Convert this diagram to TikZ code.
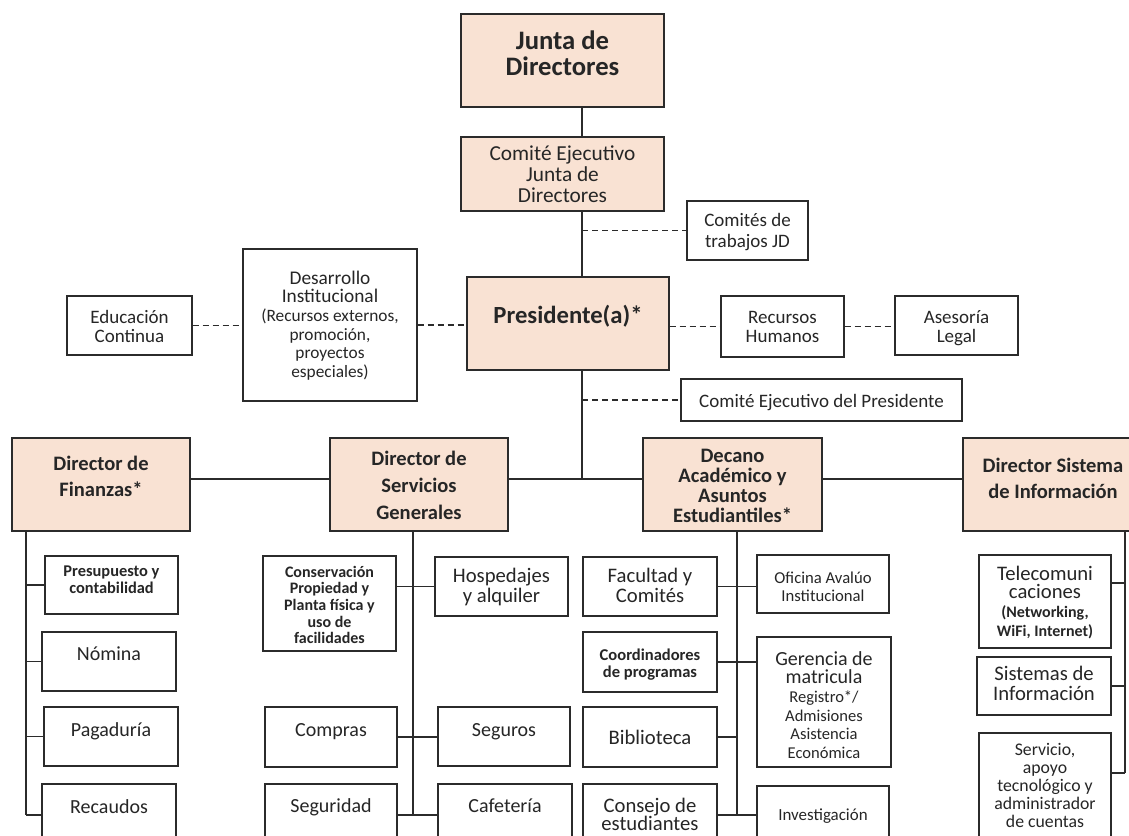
\documentclass[tikz,border=0pt]{standalone}
\usepackage{fontspec}
\setmainfont{Carlito}
\definecolor{peach}{HTML}{F9E2D3}
\definecolor{ln}{HTML}{2B2B2B}
\newcommand\lns[1]{\vtop{\lineskiplimit=-100pt\relax\halign{\hfil##\hfil\cr#1\crcr}}}
\newcommand\bx[8][]{%
  \pgfmathsetmacro\rzv{((#4+#6)/2-#7)*0.75}%
  \node[box,#1,minimum width={(#5-#3)*0.75pt},minimum height={(#6-#4)*0.75pt}] (#2) at ({(#3+#5)/2},{(#4+#6)/2}) {\raisebox{\rzv pt}[0pt][0pt]{\lns{#8}}};}
\tikzset{
  box/.style={draw=ln, line width=0.9pt, fill=white, inner sep=0pt, rectangle, text=black!85},
  head/.style={box, fill=peach},
  fnt/.style 2 args={font=\fontsize{#1}{#2}\selectfont},
  bfnt/.style 2 args={font=\fontsize{#1}{#2}\selectfont\bfseries},
  dsh/.style={draw=ln, line width=0.9pt, dash pattern=on 4.5pt off 3pt},
  cn/.style={draw=ln, line width=0.9pt},
}
\begin{document}
\begin{tikzpicture}[x=0.75pt,y=-0.75pt]
\useasboundingbox (0,0) rectangle (1129,836);
\fill[white] (0,0) rectangle (1129,836);
\clip (0,0) rectangle (1129,836);
% top
\bx[head,bfnt={20}{20}]{jd}{461}{14}{664}{107}{49}{Junta de\cr Directores}
\bx[head,fnt={16}{16}]{cejd}{461}{137}{664}{211}{160}{Comité Ejecutivo\cr Junta de\cr Directores}
\bx[fnt={14.25}{15.75}]{comt}{687}{201}{808}{260}{226}{Comités de\cr trabajos JD}
\bx[fnt={14.25}{14.5}]{educ}{67}{296}{192}{355}{323}{Educación\cr Continua}
\bx[fnt={13}{14}]{desa}{243}{249}{417}{401}{284}{\fontsize{14.5}{14}\selectfont Desarrollo\cr \fontsize{14.5}{14}\selectfont Institucional\cr (Recursos externos,\cr promoción,\cr proyectos\cr especiales)}
\bx[head,bfnt={18.5}{18}]{pres}{467}{277}{669}{370}{323}{Presidente(a)*}
\bx[fnt={14.25}{14.5}]{rrhh}{721}{296}{844}{357}{323}{Recursos\cr Humanos}
\bx[fnt={14.25}{14.5}]{ases}{895}{296}{1018}{355}{323}{Asesoría\cr Legal}
\bx[fnt={14.25}{15}]{cep}{681}{379}{962}{421}{407}{Comité Ejecutivo del Presidente}
% directors
\bx[head,bfnt={15.4}{20}]{fin}{12}{438}{190}{531}{470}{Director de\cr Finanzas*}
\bx[head,bfnt={15.4}{20.5}]{serv}{330}{438}{508}{531}{465}{Director de\cr Servicios\cr Generales}
\bx[head,bfnt={15.4}{15}]{dec}{643}{438}{822}{531}{462}{Decano\cr Académico y\cr Asuntos\cr Estudiantiles*}
\bx[head,bfnt={15.4}{19.5}]{sis}{963}{438}{1143}{531}{472}{Director Sistema\cr de Información}
% finance
\bx[bfnt={12.3}{12.75}]{ppto}{45}{556}{178}{614}{576}{Presupuesto y\cr contabilidad}
\bx[fnt={15}{15}]{nom}{42}{632}{176}{691}{660}{Nómina}
\bx[fnt={15}{15}]{pag}{44}{707}{178}{766}{736}{Pagaduría}
\bx[fnt={15}{15}]{rec}{42}{784}{176}{846}{813}{Recaudos}
% services
\bx[bfnt={12}{12.5}]{cons}{263}{556}{396}{651}{577}{Conservación\cr Propiedad y\cr Planta física y\cr uso de\cr facilidades}
\bx[fnt={15.5}{15}]{hosp}{435}{557}{568}{616}{582}{Hospedajes\cr y alquiler}
\bx[fnt={15}{15}]{comp}{265}{707}{397}{767}{736}{Compras}
\bx[fnt={15}{15}]{segu}{438}{707}{570}{766}{736}{Seguros}
\bx[fnt={15}{15}]{segd}{265}{784}{397}{846}{812}{Seguridad}
\bx[fnt={15}{15}]{cafe}{438}{784}{572}{846}{812}{Cafetería}
% academic
\bx[fnt={15.5}{15}]{fac}{583}{557}{717}{616}{582}{Facultad y\cr Comités}
\bx[fnt={12.5}{14}]{ofi}{757}{555}{889}{613}{583}{Oficina Avalúo\cr Institucional}
\bx[bfnt={12.4}{12.75}]{coord}{583}{632}{717}{692}{660}{Coordinadores\cr de programas}
\bx[fnt={12.4}{14}]{ger}{757}{637}{891}{767}{665}{\fontsize{15}{14}\selectfont Gerencia de\cr \fontsize{15}{14}\selectfont matricula\cr Registro*/\cr Admisiones\cr Asistencia\cr Económica}
\bx[fnt={15.5}{15}]{bib}{583}{707}{717}{767}{744}{Biblioteca}
\bx[fnt={15.5}{14}]{conse}{583}{784}{717}{846}{812}{Consejo de\cr estudiantes}
\bx[fnt={12.7}{14}]{inv}{757}{786}{889}{846}{820}{Investigación}
% information systems
\bx[bfnt={12}{14}]{tele}{979}{555}{1111}{648}{580}{\mdseries\fontsize{15.5}{14}\selectfont Telecomuni\cr \mdseries\fontsize{15.5}{14}\selectfont caciones\cr (Networking,\cr WiFi, Internet)}
\bx[fnt={15.5}{15.5}]{sisi}{977}{657}{1111}{715}{680}{Sistemas de\cr Información}
\bx[fnt={13.3}{13.5}]{sisv}{979}{733}{1111}{842}{755}{Servicio,\cr apoyo\cr tecnológico y\cr administrador\cr de cuentas}
% spine and coordinates
\coordinate (spine) at (582,479);
\coordinate (fbot) at (26,815);
\coordinate (sbot) at (413,815);
\coordinate (dbot) at (737,815);
\coordinate (ibot) at (1125,773);
\coordinate (tj) at (1125,583);
% solid connectors
\draw[cn] (jd.south -| spine) -- (cejd.north -| spine);
\draw[cn] (cejd.south -| spine) -- (pres.north -| spine);
\draw[cn] (pres.south -| spine) -- (spine);
\draw[cn] (fin.east |- spine) -- (serv.west |- spine);
\draw[cn] (serv.east |- spine) -- (dec.west |- spine);
\draw[cn] (dec.east |- spine) -- (sis.west |- spine);
% dashed connectors
\draw[dsh] (comt.west -| spine) -- (comt.west);
\draw[dsh] (educ.east) -- (desa.west |- educ.east);
\draw[dsh] (desa.east) -- (pres.west |- desa.east);
\draw[dsh] (pres.east |- rrhh.west) -- (rrhh.west);
\draw[dsh] (rrhh.east) -- (ases.west |- rrhh.east);
\draw[dsh] (cep.west -| spine) -- (cep.west);
% finance
\draw[cn] (fin.south -| fbot) -- (fbot);
\draw[cn] (ppto.west -| fbot) -- (ppto.west);
\draw[cn] (nom.west -| fbot) -- (nom.west);
\draw[cn] (pag.west -| fbot) -- (pag.west);
\draw[cn] (rec.west -| fbot) -- (rec.west);
% services
\draw[cn] (serv.south -| sbot) -- (sbot);
\draw[cn] (cons.east |- hosp.west) -- (hosp.west);
\draw[cn] (comp.east) -- (segu.west |- comp.east);
\draw[cn] (segd.east) -- (cafe.west |- segd.east);
% academic
\draw[cn] (dec.south -| dbot) -- (dbot);
\draw[cn] (fac.east) -- (ofi.west |- fac.east);
\draw[cn] (coord.east) -- (ger.west |- coord.east);
\draw[cn] (bib.east) -- (bib.east -| dbot);
\draw[cn] (conse.east) -- (inv.west |- conse.east);
% information systems
\draw[cn] (sis.south -| ibot) -- (ibot);
\draw[cn] (tj -| tele.east) -- (tj);
\draw[cn] (sisi.east) -- (sisi.east -| ibot);
\draw[cn] (ibot -| sisv.east) -- (ibot);
\end{tikzpicture}
\end{document}
